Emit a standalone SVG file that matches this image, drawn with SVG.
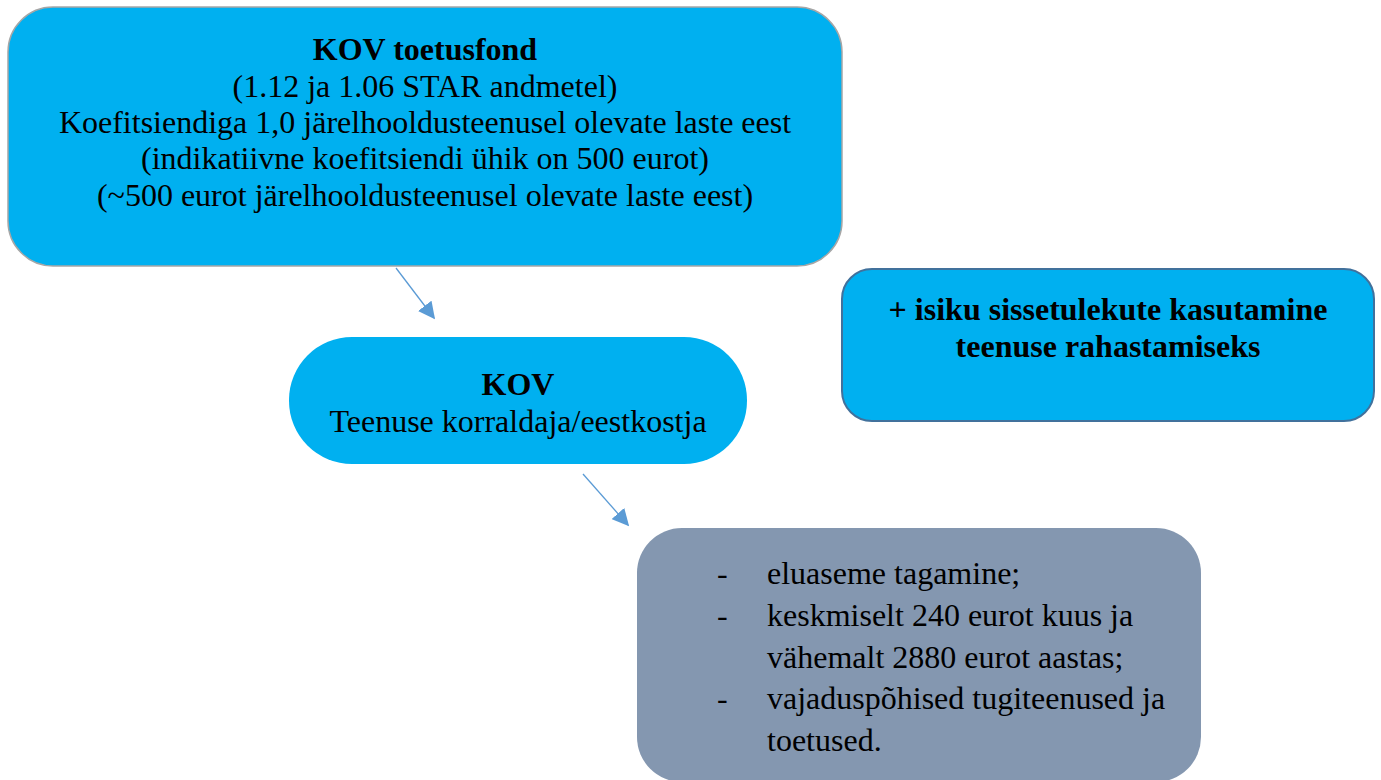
<svg xmlns="http://www.w3.org/2000/svg" width="1381" height="780" viewBox="0 0 1381 780">
<style>
text{font-family:"Liberation Serif","Times New Roman",serif;fill:#000;font-size:32px}
.c{text-anchor:middle}
.b{font-weight:bold}
.blue{fill:#00b0f0}
.conn{stroke:#5b9bd5;stroke-width:1.3;fill:none}
</style>
<defs>
<marker id="ah" viewBox="0 0 10 10" refX="9" refY="5" markerWidth="17" markerHeight="17" markerUnits="userSpaceOnUse" orient="auto">
<path d="M0,0 L10,5 L0,10 z" fill="#5b9bd5"/>
</marker>
</defs>
<rect width="1381" height="780" fill="#fff"/>
<g id="n1">
<rect x="8" y="7" width="834" height="259" rx="45" class="blue" stroke="#a6a6a6" stroke-width="1.5"/>
<text x="425" y="60" class="c b">KOV toetusfond</text>
<text x="425" y="97" class="c">(1.12 ja 1.06 STAR andmetel)</text>
<text x="425" y="133" class="c">Koefitsiendiga 1,0 järelhooldusteenusel olevate laste eest</text>
<text x="425" y="169" class="c">(indikatiivne koefitsiendi ühik on 500 eurot)</text>
<text x="425" y="206" class="c">(~500 eurot järelhooldusteenusel olevate laste eest)</text>
</g>
<g id="n2">
<rect x="289" y="337" width="458" height="127" rx="63" class="blue"/>
<text x="518" y="395" class="c b">KOV</text>
<text x="518" y="432" class="c">Teenuse korraldaja/eestkostja</text>
</g>
<g id="n3">
<rect x="842" y="269" width="532" height="152" rx="30" class="blue" stroke="#41719c" stroke-width="2"/>
<text x="1108" y="320" class="c b">+ isiku sissetulekute kasutamine</text>
<text x="1108" y="357" class="c b">teenuse rahastamiseks</text>
</g>
<g id="n4">
<rect x="637" y="528" width="564" height="254" rx="45" fill="#8497b0"/>
<text x="717" y="584">-</text>
<text x="767" y="584">eluaseme tagamine;</text>
<text x="717" y="626">-</text>
<text x="767" y="626">keskmiselt 240 eurot kuus ja</text>
<text x="767" y="668">vähemalt 2880 eurot aastas;</text>
<text x="717" y="709">-</text>
<text x="767" y="709">vajaduspõhised tugiteenused ja</text>
<text x="767" y="751">toetused.</text>
</g>
<g id="connectors">
<line x1="396" y1="268" x2="434" y2="318" class="conn" marker-end="url(#ah)"/>
<line x1="583" y1="474" x2="628" y2="525" class="conn" marker-end="url(#ah)"/>
</g>
</svg>
